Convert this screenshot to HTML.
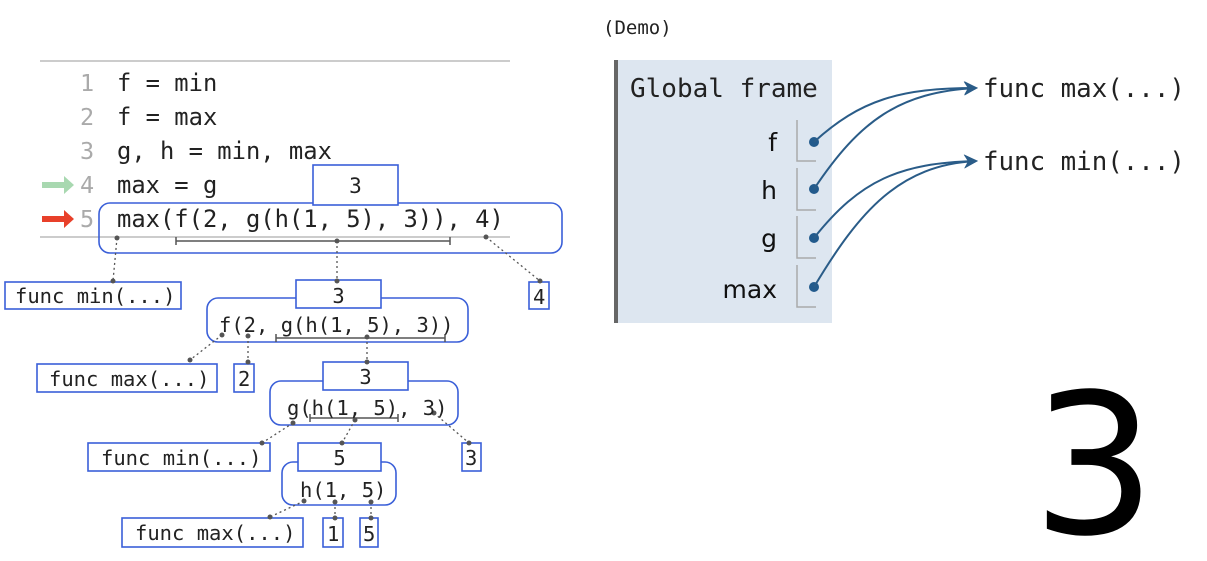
<!DOCTYPE html>
<html><head><meta charset="utf-8"><style>
html,body{margin:0;padding:0;background:#fff;width:1207px;height:561px;overflow:hidden}
svg{display:block}
.m{font-family:"DejaVu Sans Mono","Liberation Mono",monospace}
.s{font-family:"DejaVu Sans","Liberation Sans",sans-serif}
</style></head><body>
<svg width="1207" height="561" viewBox="0 0 1207 561" xmlns="http://www.w3.org/2000/svg">
<defs>
<marker id="ah" markerWidth="14" markerHeight="14" refX="12" refY="7" orient="auto" markerUnits="userSpaceOnUse"><path d="M0,0 L14,7 L0,14 L4,7 Z" fill="#2a5c88"/></marker>
</defs>
<text x="603" y="34" class="m" font-size="19" fill="#222">(Demo)</text>
<!-- code -->
<line x1="40" y1="61" x2="510" y2="61" stroke="#ccc" stroke-width="2"/>
<line x1="40" y1="237" x2="510" y2="237" stroke="#ccc" stroke-width="2"/>
<g class="m" font-size="23.5" fill="#aaa">
<text x="80" y="91">1</text><text x="80" y="125">2</text><text x="80" y="159">3</text><text x="80" y="193">4</text><text x="80" y="227">5</text>
</g>
<g class="m" font-size="23.8" fill="#222">
<text x="117" y="91">f = min</text><text x="117" y="125">f = max</text><text x="117" y="159">g, h = min, max</text><text x="117" y="193">max = g</text>
</g>
<path d="M42,182 h22 v-6 l10,9 l-10,9 v-6 h-22z" fill="#a8d8b0"/>
<path d="M42,216 h22 v-6 l10,9 l-10,9 v-6 h-22z" fill="#e8402a"/>
<rect x="99" y="203" width="463" height="50" rx="11" fill="none" stroke="#3a5fd8" stroke-width="1.6"/>
<rect x="313" y="165" width="85" height="40" fill="#fff" stroke="#3a5fd8" stroke-width="1.6"/>
<text x="355.5" y="193" class="m" font-size="21" text-anchor="middle" fill="#222">3</text>
<text x="117" y="227" class="m" font-size="23.8" fill="#222">max(f(2, g(h(1, 5), 3)), 4)</text>
<g fill="#fff" stroke="#3a5fd8" stroke-width="1.6">
<rect x="5" y="282" width="176" height="27"/>
<rect x="529" y="282" width="20" height="27"/>
<rect x="207" y="298" width="261" height="44" rx="11"/>
<rect x="296" y="280" width="85" height="28"/>
<rect x="37" y="364" width="180" height="28"/>
<rect x="234" y="364" width="20" height="28"/>
<rect x="270" y="381" width="188" height="44" rx="11"/>
<rect x="323" y="362" width="85" height="28"/>
<rect x="88" y="443" width="182" height="28"/>
<rect x="462" y="443" width="19" height="28"/>
<rect x="282" y="462" width="114" height="43" rx="11"/>
<rect x="298" y="443" width="83" height="28"/>
<rect x="122" y="518" width="181" height="29"/>
<rect x="323" y="518" width="20" height="29"/>
<rect x="360" y="518" width="18" height="29"/>
</g>
<g stroke="#555" stroke-width="1.5" fill="none">
<path d="M176,241 H450 M176,237 v8 M450,237 v8"/>
<path d="M276,338 H445 M276,334 v8 M445,334 v8"/>
<path d="M310,418 H398 M310,414 v8 M398,414 v8"/>
</g>
<g stroke="#555" stroke-width="1.3" stroke-dasharray="2,3" fill="none">
<path d="M117,238 L113,281 M337,241 V281 M486,237 L540,281"/>
<path d="M222,335 L190,360 M248,336 V362 M367,337 V362"/>
<path d="M293,423 L262,443 M355,420 L342,443 M434,413 L469,443"/>
<path d="M304,501 L270,517 M335,502 V518 M371,502 V518"/>
</g>
<g fill="#555">
<circle cx="117" cy="238" r="2.5"/><circle cx="113" cy="281" r="2.5"/><circle cx="337" cy="241" r="2.5"/><circle cx="337" cy="281" r="2.5"/><circle cx="486" cy="237" r="2.5"/><circle cx="540" cy="281" r="2.5"/>
<circle cx="222" cy="335" r="2.5"/><circle cx="190" cy="360" r="2.5"/><circle cx="248" cy="336" r="2.5"/><circle cx="248" cy="362" r="2.5"/><circle cx="367" cy="337" r="2.5"/><circle cx="367" cy="362" r="2.5"/>
<circle cx="293" cy="423" r="2.5"/><circle cx="262" cy="443" r="2.5"/><circle cx="355" cy="420" r="2.5"/><circle cx="342" cy="443" r="2.5"/><circle cx="434" cy="413" r="2.5"/><circle cx="469" cy="443" r="2.5"/>
<circle cx="304" cy="501" r="2.5"/><circle cx="270" cy="517" r="2.5"/><circle cx="335" cy="502" r="2.5"/><circle cx="335" cy="518" r="2.5"/><circle cx="371" cy="502" r="2.5"/><circle cx="371" cy="518" r="2.5"/>
</g>
<g class="m" font-size="20.5" fill="#222">
<text x="15" y="303">func min(...)</text>
<text x="533" y="304">4</text>
<text x="338.5" y="303" text-anchor="middle">3</text>
<text x="219" y="332">f(2, g(h(1, 5), 3))</text>
<text x="49" y="386">func max(...)</text>
<text x="238" y="386">2</text>
<text x="365.5" y="384" text-anchor="middle">3</text>
<text x="287" y="415">g(h(1, 5), 3)</text>
<text x="101" y="465">func min(...)</text>
<text x="465" y="465">3</text>
<text x="339.5" y="465" text-anchor="middle">5</text>
<text x="300" y="497">h(1, 5)</text>
<text x="135" y="540">func max(...)</text>
<text x="327" y="541">1</text>
<text x="363" y="541">5</text>
</g>
<!-- frame -->
<rect x="614" y="60" width="218" height="263" fill="#dde6f0"/>
<rect x="614" y="60" width="4" height="263" fill="#666"/>
<text x="630" y="97" class="m" font-size="26" fill="#222">Global frame</text>
<g class="s" font-size="25" fill="#111" text-anchor="end">
<text x="777" y="151">f</text><text x="777" y="199">h</text><text x="777" y="247">g</text><text x="777" y="298">max</text>
</g>
<g stroke="#aaa" stroke-width="1.5" fill="none">
<path d="M797,120 V161 H816"/><path d="M797,168 V210 H816"/><path d="M797,216 V258 H816"/><path d="M797,265 V307 H816"/>
</g>
<g fill="#225a8c"><circle cx="814" cy="142" r="5"/><circle cx="814" cy="189" r="5"/><circle cx="814" cy="238" r="5"/><circle cx="814" cy="287" r="5"/></g>
<g stroke="#2a5c88" stroke-width="2" fill="none" marker-end="url(#ah)">
<path d="M814,142 C860,100 900,88 976,88"/>
<path d="M814,189 C860,120 900,92 976,88"/>
<path d="M814,238 C860,180 900,163 976,161"/>
<path d="M814,287 C860,210 900,165 976,161"/>
</g>
<g class="m" font-size="25.8" fill="#222"><text x="983" y="97">func max(...)</text><text x="983" y="170">func min(...)</text></g>
<text x="1032" y="533" class="s" font-size="195" fill="#000">3</text>
</svg>
</body></html>
